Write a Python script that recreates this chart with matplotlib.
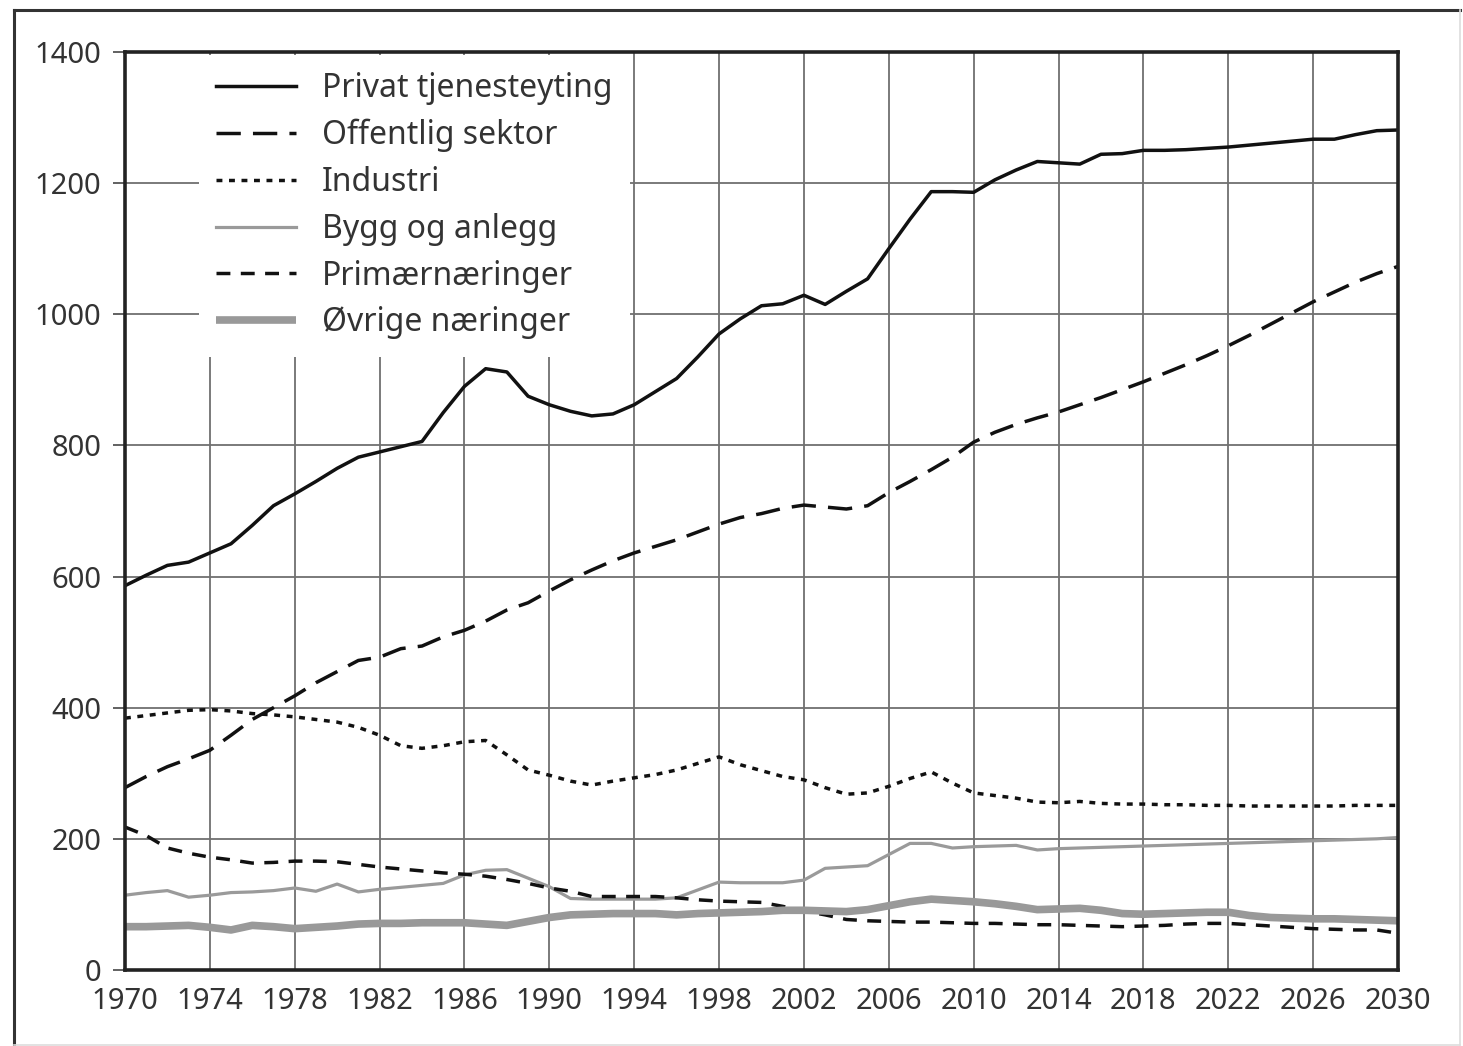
import numpy as np
import matplotlib
matplotlib.use("Agg")
import matplotlib.pyplot as plt
from matplotlib.lines import Line2D

####DATA######
years = list(range(1970, 2031))

privat = [586, 602, 617, 622, 636, 650, 678, 708, 726, 745,
          765, 782, 790, 798, 806, 850, 890, 917, 912, 875,
          862, 852, 845, 848, 862, 882, 902, 935, 970, 993,
          1013, 1016, 1029, 1015, 1035, 1054, 1100, 1145, 1187, 1187,
          1186, 1205, 1220, 1233, 1231, 1229, 1244, 1245, 1250, 1250,
          1251, 1253, 1255, 1258, 1261, 1264, 1267, 1267, 1274, 1280,
          1281]

offentlig = [278, 295, 310, 322, 335, 358, 382, 400, 418, 438,
             455, 472, 477, 490, 494, 508, 518, 532, 549, 560,
             578, 595, 610, 624, 636, 646, 656, 668, 680, 690,
             696, 704, 709, 706, 703, 708, 728, 745, 763, 782,
             805, 820, 832, 842, 851, 862, 873, 885, 897, 910,
             923, 937, 952, 968, 985, 1002, 1019, 1034, 1049, 1062,
             1073]

industri = [384, 388, 392, 396, 397, 395, 391, 389, 386, 382,
            378, 370, 358, 342, 338, 342, 348, 350, 328, 305,
            297, 288, 282, 288, 293, 298, 305, 315, 325, 313,
            304, 295, 290, 278, 268, 270, 280, 292, 302, 285,
            270, 266, 262, 256, 255, 257, 254, 253, 253, 252,
            252, 251, 251, 250, 250, 250, 250, 250, 251, 251,
            251]

bygg = [114, 118, 121, 111, 114, 118, 119, 121, 125, 120,
        131, 119, 123, 126, 129, 132, 145, 152, 153, 140,
        127, 109, 108, 108, 108, 108, 110, 122, 134, 133,
        133, 133, 137, 155, 157, 159, 176, 193, 193, 186,
        188, 189, 190, 183, 185, 186, 187, 188, 189, 190,
        191, 192, 193, 194, 195, 196, 197, 198, 199, 200,
        202]

primaer = [218, 205, 186, 178, 172, 168, 163, 164, 166, 166,
           165, 161, 157, 154, 151, 148, 146, 143, 138, 132,
           125, 120, 112, 112, 112, 112, 110, 107, 105, 104,
           103, 97, 90, 84, 77, 75, 74, 73, 73, 72,
           71, 71, 70, 69, 69, 68, 67, 66, 67, 68,
           70, 71, 71, 69, 67, 65, 63, 62, 61, 61,
           56]

ovrige = [66, 66, 67, 68, 65, 61, 68, 66, 63, 65,
          67, 70, 71, 71, 72, 72, 72, 70, 68, 74,
          80, 84, 85, 86, 86, 86, 84, 86, 87, 88,
          89, 91, 91, 90, 89, 92, 98, 104, 108, 106,
          104, 101, 97, 92, 93, 94, 91, 86, 85, 86,
          87, 88, 88, 83, 80, 79, 78, 78, 77, 76,
          75]

labels = ["Privat tjenesteyting", "Offentlig sektor", "Industri",
          "Bygg og anlegg", "Primærnæringer", "Øvrige næringer"]
xticks = list(range(1970, 2031, 4))
yticks = list(range(0, 1401, 200))
#--------------------

plt.rcParams['font.family'] = ['Noto Sans', 'DejaVu Sans']
TXT = '#333333'

fig = plt.figure(figsize=(14.63, 10.46), dpi=100)
ax = fig.add_axes([0.0854, 0.0727, 0.8702, 0.8776])

# outer frame round the whole figure
fig.add_artist(Line2D([0.0096, 0.0096], [0.001, 0.9904], color='#333333', lw=2.2, transform=fig.transFigure))
fig.add_artist(Line2D([0.0096, 0.998], [0.9904, 0.9904], color='#333333', lw=2.2, transform=fig.transFigure))
fig.add_artist(Line2D([0.998, 0.998], [0.001, 0.9904], color='#dddddd', lw=1.2, transform=fig.transFigure))
fig.add_artist(Line2D([0.0096, 0.998], [0.001, 0.001], color='#dddddd', lw=1.2, transform=fig.transFigure))

ax.plot(years, privat, color='#111111', lw=2.5, label=labels[0])
ax.plot(years, offentlig, color='#111111', lw=2.5, ls=(0, (7.0, 3.5)), label=labels[1])
ax.plot(years, industri, color='#111111', lw=2.5, ls=(0, (1.7, 1.9)), label=labels[2])
ax.plot(years, bygg, color='#9a9a9a', lw=2.3, label=labels[3])
ax.plot(years, primaer, color='#111111', lw=2.5, ls=(0, (4.0, 3.0)), label=labels[4])
ax.plot(years, ovrige, color='#999999', lw=5.5, solid_capstyle='butt', label=labels[5])

ax.set_xlim(1970, 2030)
ax.set_ylim(0, 1400)
ax.set_xticks(xticks)
ax.set_yticks(yticks)
ax.grid(True, color='#707070', lw=1.3)
ax.set_axisbelow(True)
for s in ax.spines.values():
    s.set_linewidth(2.6)
    s.set_color('#222222')
ax.tick_params(axis='y', length=9, width=1.3, color='#555555', pad=8, labelsize=21, labelcolor=TXT)
ax.tick_params(axis='x', length=0, pad=12, labelsize=21, labelcolor=TXT)

leg = ax.legend(loc='upper left', bbox_to_anchor=(0.058, 0.997), borderaxespad=0,
                frameon=True, fancybox=False, framealpha=1, edgecolor='none',
                facecolor='white', fontsize=23, handlelength=2.5, handletextpad=0.8,
                labelspacing=0.43, borderpad=0.55)
for t in leg.get_texts():
    t.set_color(TXT)

fig.savefig('out.png', dpi=100)
